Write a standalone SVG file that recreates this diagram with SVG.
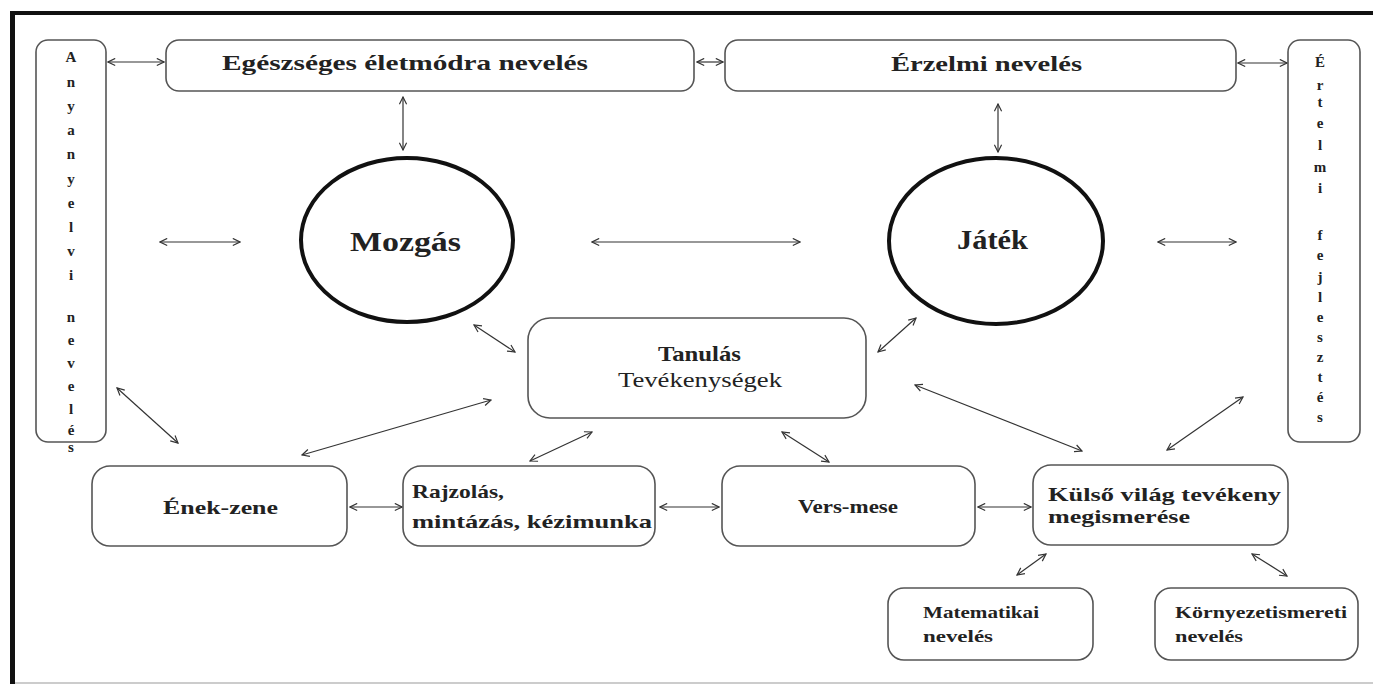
<svg xmlns="http://www.w3.org/2000/svg" width="1373" height="684" viewBox="0 0 1373 684">
<style>
.box{fill:#fff;stroke:#555;stroke-width:1.6}
.ell{fill:#fff;stroke:#111;stroke-width:4}
.t{font-family:"Liberation Serif","Times New Roman",serif;font-weight:bold;fill:#222}
.r{font-weight:normal}
.c{stroke:#333;stroke-width:1.2;fill:none;marker-start:url(#ah);marker-end:url(#ah)}
.v{font-size:15px;text-anchor:middle}
</style>
<defs>
<marker id="ah" viewBox="0 0 10 10" refX="9" refY="5" markerWidth="9" markerHeight="9" markerUnits="userSpaceOnUse" orient="auto-start-reverse">
<path d="M1,1 L9,5 L1,9" fill="none" stroke="#333" stroke-width="1.3"/>
</marker>
</defs>
<rect width="1373" height="684" fill="#fff"/>
<g id="frame">
<line x1="10" y1="13" x2="1373" y2="13" stroke="#111" stroke-width="4"/>
<line x1="12.5" y1="11" x2="12.5" y2="684" stroke="#111" stroke-width="5"/>
<line x1="15" y1="683" x2="1373" y2="683" stroke="#bbb" stroke-width="1.5"/>
</g>
<g id="connectors">
<line class="c" x1="108" y1="62" x2="164" y2="62"/>
<line class="c" x1="697" y1="62" x2="723" y2="62"/>
<line class="c" x1="1238" y1="63" x2="1287" y2="63"/>
<line class="c" x1="403" y1="97" x2="403" y2="150"/>
<line class="c" x1="998" y1="104" x2="998" y2="152"/>
<line class="c" x1="160" y1="242" x2="240" y2="242"/>
<line class="c" x1="592" y1="242" x2="800" y2="242"/>
<line class="c" x1="1158" y1="242" x2="1236" y2="242"/>
<line class="c" x1="117" y1="388" x2="178" y2="443"/>
<line class="c" x1="474" y1="325" x2="515" y2="352"/>
<line class="c" x1="916" y1="318" x2="878" y2="352"/>
<line class="c" x1="302" y1="455" x2="491" y2="400"/>
<line class="c" x1="530" y1="461" x2="592" y2="432"/>
<line class="c" x1="782" y1="432" x2="829" y2="462"/>
<line class="c" x1="915" y1="385" x2="1082" y2="451"/>
<line class="c" x1="1167" y1="450" x2="1243" y2="397"/>
<line class="c" x1="350" y1="507" x2="402" y2="507"/>
<line class="c" x1="660" y1="507" x2="719" y2="507"/>
<line class="c" x1="978" y1="507" x2="1031" y2="507"/>
<line class="c" x1="1017" y1="575" x2="1046" y2="554"/>
<line class="c" x1="1252" y1="554" x2="1287" y2="576"/>
</g>
<g id="anyanyelvi">
<rect class="box" x="36" y="40" width="70" height="402" rx="12"/>
<g class="t v">
<text x="71" y="62">A</text><text x="71" y="87">n</text><text x="71" y="111">y</text><text x="71" y="135">a</text><text x="71" y="159">n</text><text x="71" y="184">y</text><text x="71" y="208">e</text><text x="71" y="232">l</text><text x="71" y="256">v</text><text x="71" y="280">i</text>
<text x="71" y="322">n</text><text x="71" y="345">e</text><text x="71" y="368">v</text><text x="71" y="391">e</text><text x="71" y="414">l</text><text x="71" y="435">é</text><text x="71" y="452">s</text>
</g>
</g>
<g id="ertelmi">
<rect class="box" x="1288" y="40" width="72" height="402" rx="12"/>
<g class="t v">
<text x="1320" y="67">É</text><text x="1320" y="90">r</text><text x="1320" y="107">t</text><text x="1320" y="128">e</text><text x="1320" y="150">l</text><text x="1320" y="172">m</text><text x="1320" y="193">i</text>
<text x="1320" y="240">f</text><text x="1320" y="260">e</text><text x="1320" y="282">j</text><text x="1320" y="302">l</text><text x="1320" y="322">e</text><text x="1320" y="342">s</text><text x="1320" y="362">z</text><text x="1320" y="382">t</text><text x="1320" y="402">é</text><text x="1320" y="422">s</text>
</g>
</g>
<g id="egeszseges">
<rect class="box" x="166" y="40" width="528" height="51" rx="13"/>
<text class="t" x="222" y="70" font-size="21" textLength="366" lengthAdjust="spacingAndGlyphs">Egészséges életmódra nevelés</text>
</g>
<g id="erzelmi">
<rect class="box" x="725" y="40" width="511" height="51" rx="13"/>
<text class="t" x="891" y="71" font-size="21" textLength="191" lengthAdjust="spacingAndGlyphs">Érzelmi nevelés</text>
</g>
<g id="mozgas">
<ellipse class="ell" cx="407" cy="240" rx="106" ry="82"/>
<text class="t" x="350" y="251" font-size="28" textLength="111" lengthAdjust="spacingAndGlyphs">Mozgás</text>
</g>
<g id="jatek">
<ellipse class="ell" cx="996" cy="241" rx="107" ry="83"/>
<text class="t" x="957" y="249" font-size="27" textLength="71" lengthAdjust="spacingAndGlyphs">Játék</text>
</g>
<g id="tanulas">
<rect class="box" x="528" y="318" width="338" height="100" rx="22"/>
<text class="t" x="658" y="361" font-size="21" textLength="83" lengthAdjust="spacingAndGlyphs">Tanulás</text>
<text class="t r" x="618" y="387" font-size="21" textLength="164" lengthAdjust="spacingAndGlyphs">Tevékenységek</text>
</g>
<g id="enekzene">
<rect class="box" x="92" y="466" width="255" height="80" rx="18"/>
<text class="t" x="163" y="514" font-size="19" textLength="115" lengthAdjust="spacingAndGlyphs">Ének-zene</text>
</g>
<g id="rajzolas">
<rect class="box" x="403" y="466" width="252" height="80" rx="18"/>
<text class="t" x="412" y="498" font-size="19" textLength="92" lengthAdjust="spacingAndGlyphs">Rajzolás,</text>
<text class="t" x="412" y="528" font-size="19" textLength="240" lengthAdjust="spacingAndGlyphs">mintázás, kézimunka</text>
</g>
<g id="versmese">
<rect class="box" x="722" y="466" width="253" height="80" rx="18"/>
<text class="t" x="798" y="513" font-size="19" textLength="100" lengthAdjust="spacingAndGlyphs">Vers-mese</text>
</g>
<g id="kulso">
<rect class="box" x="1033" y="465" width="255" height="80" rx="18"/>
<text class="t" x="1048" y="501" font-size="19" textLength="233" lengthAdjust="spacingAndGlyphs">Külső világ tevékeny</text>
<text class="t" x="1048" y="523" font-size="19" textLength="142" lengthAdjust="spacingAndGlyphs">megismerése</text>
</g>
<g id="matematikai">
<rect class="box" x="888" y="588" width="205" height="72" rx="16"/>
<text class="t" x="923" y="618" font-size="16" textLength="116" lengthAdjust="spacingAndGlyphs">Matematikai</text>
<text class="t" x="923" y="642" font-size="16" textLength="70" lengthAdjust="spacingAndGlyphs">nevelés</text>
</g>
<g id="kornyezet">
<rect class="box" x="1155" y="588" width="203" height="72" rx="16"/>
<text class="t" x="1175" y="618" font-size="16" textLength="172" lengthAdjust="spacingAndGlyphs">Környezetismereti</text>
<text class="t" x="1175" y="642" font-size="16" textLength="68" lengthAdjust="spacingAndGlyphs">nevelés</text>
</g>
</svg>
